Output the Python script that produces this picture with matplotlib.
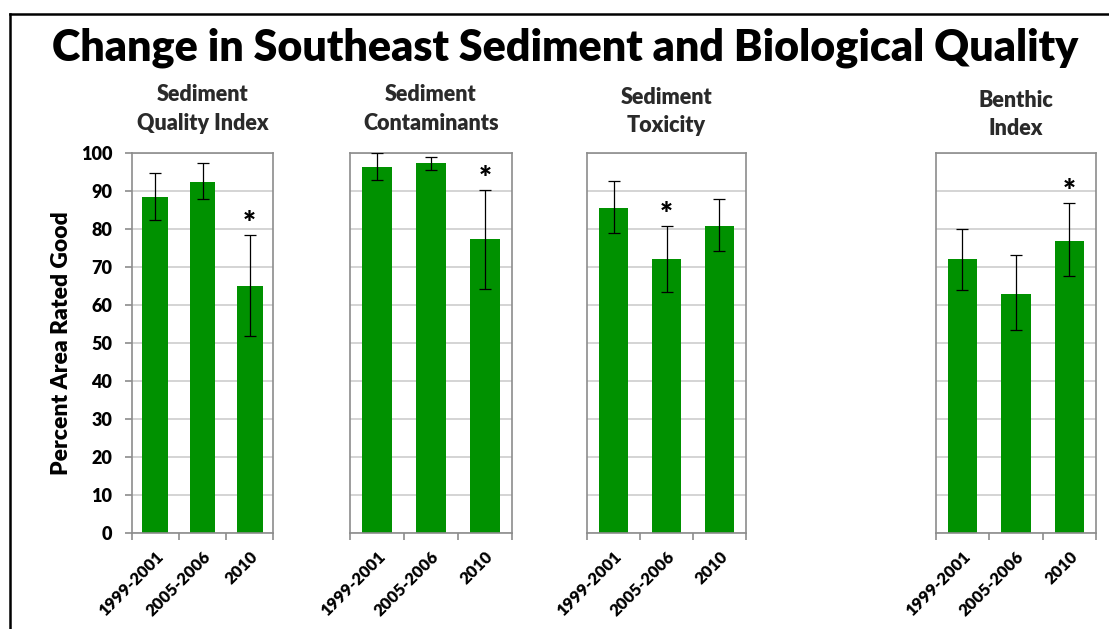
import matplotlib

matplotlib.use("Agg")
import matplotlib.pyplot as plt
from matplotlib.lines import Line2D

plt.rcParams["font.family"] = ["Lato", "DejaVu Sans"]
plt.rcParams["font.weight"] = "bold"

periods = ["1999-2001", "2005-2006", "2010"]
panel_titles = [
    "Sediment\nQuality Index",
    "Sediment\nContaminants",
    "Sediment\nToxicity",
    "Benthic\nIndex",
]

# percent area rated good, with lower / upper confidence limits
sqi = [88.4, 92.4, 65.1]
sqi_lo = [82.5, 87.9, 51.9]
sqi_hi = [94.7, 97.4, 78.4]

contam = [96.4, 97.4, 77.4]
contam_lo = [93.0, 95.7, 64.2]
contam_hi = [100.0, 99.0, 90.4]

tox = [85.7, 72.3, 80.8]
tox_lo = [78.9, 63.5, 74.2]
tox_hi = [92.6, 80.9, 87.9]

benthic = [72.1, 63.1, 76.9]
benthic_lo = [64.1, 53.6, 67.7]
benthic_hi = [80.0, 73.2, 86.8]

# significant change flags (asterisk)
sqi_sig = [False, False, True]
contam_sig = [False, False, True]
tox_sig = [False, True, False]
benthic_sig = [False, False, True]

panels = [
    (sqi, sqi_lo, sqi_hi, sqi_sig),
    (contam, contam_lo, contam_hi, contam_sig),
    (tox, tox_lo, tox_hi, tox_sig),
    (benthic, benthic_lo, benthic_hi, benthic_sig),
]

W, H = 1109, 629
fig = plt.figure(figsize=(W / 100, H / 100), dpi=100)

# axes boxes in pixels: left, right; plus title pad for each panel
boxes = [(131.7, 273.3), (350.0, 511.7), (587.3, 745.7), (935.7, 1096.0)]
title_pads = [17, 17, 15, 13]
top_px, bottom_px = 153.3, 533.3

GREEN = "#009100"
SPINE = "#8c8c8c"
GRID = "#d4d4d4"

x = list(range(len(periods)))
for i, ((vals, lo, hi, sig), (l, r)) in enumerate(zip(panels, boxes)):
    ax = fig.add_axes([l / W, 1 - bottom_px / H, (r - l) / W, (bottom_px - top_px) / H])
    err = [[v - a for v, a in zip(vals, lo)], [b - v for v, b in zip(vals, hi)]]
    ax.bar(x, vals, width=0.55, color=GREEN, zorder=2)
    ax.errorbar(x, vals, yerr=err, fmt="none", ecolor="black", elinewidth=0.9,
                capsize=4, capthick=0.9, zorder=3)
    for xi, h, s in zip(x, hi, sig):
        if s:
            ax.annotate("*", (xi, h), xytext=(0, 8), textcoords="offset points",
                        ha="center", va="center", fontsize=22, fontweight="heavy")

    ax.set_xlim(-0.5, 2.5)
    ax.set_ylim(0, 100)
    ax.set_yticks(range(0, 101, 10))
    ax.yaxis.grid(True, color=GRID, linewidth=1.4, zorder=0)
    ax.set_axisbelow(True)
    for sp in ax.spines.values():
        sp.set_color(SPINE)
        sp.set_linewidth(1.2)

    ax.set_xticks(x)
    ax.set_xticklabels(periods, rotation=45, ha="right", rotation_mode="anchor",
                       fontsize=12, fontweight="heavy")
    ax.tick_params(axis="x", which="major", length=0, pad=11)
    ax.set_xticks([-0.5, 0.5, 1.5, 2.5], minor=True)
    ax.tick_params(axis="x", which="minor", length=5, color=SPINE, width=1.2)

    if i == 0:
        ax.tick_params(axis="y", length=5, color=SPINE, width=1.2, labelsize=13, pad=9)
        for t in ax.get_yticklabels():
            t.set_fontweight("heavy")
    else:
        ax.tick_params(axis="y", length=0, labelleft=False)

    ax.set_title(panel_titles[i], fontsize=15.5, fontweight="heavy", linespacing=1.45,
                 pad=title_pads[i], color="#2a2a2a")

fig.text(62 / W, 1 - 343 / H, "Percent Area Rated Good", rotation=90,
         ha="center", va="center", fontsize=16.5, fontweight="heavy")
fig.text(565 / W, 1 - 48 / H, "Change in Southeast Sediment and Biological Quality",
         ha="center", va="center", fontsize=31, fontweight="heavy")

# outer frame (top and left edges)
fig.add_artist(Line2D([10 / W, 1.0], [1 - 14 / H, 1 - 14 / H], color="black", linewidth=1.8))
fig.add_artist(Line2D([10 / W, 10 / W], [0.0, 1 - 14 / H], color="black", linewidth=1.8))

fig.savefig("out.png", dpi=100)
